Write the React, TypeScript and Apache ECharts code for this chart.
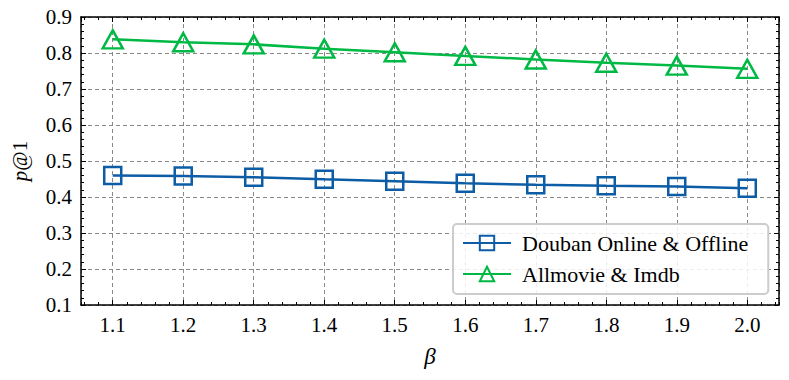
import React, { useEffect, useRef } from "react";
import * as echarts from "echarts";

const betas = [1.1, 1.2, 1.3, 1.4, 1.5, 1.6, 1.7, 1.8, 1.9, 2.0];
const doubanValues = [0.460, 0.458, 0.455, 0.449, 0.444, 0.438, 0.434, 0.431, 0.429, 0.424];
const allmovieValues = [0.838, 0.830, 0.824, 0.812, 0.802, 0.792, 0.782, 0.773, 0.765, 0.756];
const seriesNames = ["Douban Online & Offline", "Allmovie & Imdb"];

const FONT = "'Liberation Serif', 'DejaVu Serif', serif";
const BLUE = "#0C5DA5";
const GREEN = "#00B945";
const TICK_FS = 21;

export default function App() {
  const ref = useRef<HTMLDivElement>(null);
  useEffect(() => {
    document.body.style.margin = "0";
    if (!ref.current) return;
    const chart = echarts.init(ref.current, undefined, { renderer: "svg" });
    const xMin = 1.055;
    const xMax = 2.045;
    const baseX = (pos: string, major: boolean, labels: boolean) => ({
      type: "value",
      position: pos,
      min: xMin,
      max: xMax,
      splitNumber: major ? 10 : 50,
      minInterval: major ? 0.1 : 0.02,
      maxInterval: major ? 0.1 : 0.02,
      axisLine: { show: major, onZero: false, lineStyle: { color: "#000", width: 1.5 } },
      axisTick: { show: true, inside: true, length: major ? 5 : 3, lineStyle: { color: "#000", width: 1 } },
      axisLabel: labels
        ? {
            show: true,
            interval: 0,
            showMinLabel: false,
            showMaxLabel: false,
            margin: 9,
            color: "#000",
            fontFamily: FONT,
            fontSize: TICK_FS,
            formatter: (v: number) => v.toFixed(1),
          }
        : { show: false },
      splitLine: labels
        ? { show: true, lineStyle: { color: "#888", type: [4, 3], width: 1 } }
        : { show: false },
    });
    const xAxes: any[] = [
      { ...baseX("bottom", true, true), name: "β", nameLocation: "middle", nameGap: 40,
        nameTextStyle: { fontFamily: FONT, fontStyle: "italic", fontSize: 23, color: "#000" } },
      baseX("bottom", false, false),
      baseX("top", true, false),
      baseX("top", false, false),
    ];
    const baseY = (pos: string, labels: boolean) => ({
      type: "value",
      position: pos,
      min: 0.1,
      max: 0.9,
      interval: 0.1,
      axisLine: { show: true, onZero: false, lineStyle: { color: "#000", width: 1.5 } },
      axisTick: { show: true, inside: true, length: 5, lineStyle: { color: "#000", width: 1 } },
      minorTick: { show: true, splitNumber: 5, length: 3, lineStyle: { color: "#000", width: 1 } },
      axisLabel: labels
        ? { show: true, margin: 9, color: "#000", fontFamily: FONT, fontSize: TICK_FS,
            formatter: (v: number) => v.toFixed(1) }
        : { show: false },
      splitLine: labels
        ? { show: true, lineStyle: { color: "#888", type: [4, 3], width: 1 } }
        : { show: false },
    });
    const yAxes: any[] = [
      { ...baseY("left", true), name: "{i|p}@1", nameLocation: "middle", nameGap: 51, nameRotate: 90,
        nameTextStyle: { fontFamily: FONT, fontSize: 21, color: "#000",
          rich: { i: { fontFamily: FONT, fontStyle: "italic", fontSize: 21, color: "#000" } } } },
      baseY("right", false),
    ];

    chart.setOption({
      animation: false,
      backgroundColor: "#fff",
      grid: { left: 81, right: 10, top: 17, bottom: 75, containLabel: false },
      xAxis: xAxes,
      yAxis: yAxes,
      legend: {
        orient: "vertical",
        left: 453,
        top: 224,
        padding: [8, 20, 9, 9],
        itemGap: 9,
        itemWidth: 48,
        itemHeight: 18,
        backgroundColor: "rgba(255,255,255,0.85)",
        borderColor: "#cccccc",
        borderWidth: 2,
        borderRadius: 4,
        textStyle: { fontFamily: FONT, fontSize: 22, color: "#000", padding: [0, 0, 0, 6] },
        data: seriesNames,
      },
      series: [
        {
          name: seriesNames[0],
          type: "line",
          xAxisIndex: 0,
          yAxisIndex: 0,
          data: betas.map((b, i) => [b, doubanValues[i]]),
          symbol: "rect",
          symbolSize: 17,
          lineStyle: { color: BLUE, width: 2.5 },
          itemStyle: { color: "rgba(255,255,255,0)", borderColor: BLUE, borderWidth: 2.5 },
          color: BLUE,
          z: 3,
        },
        {
          name: seriesNames[1],
          type: "line",
          xAxisIndex: 0,
          yAxisIndex: 0,
          data: betas.map((b, i) => [b, allmovieValues[i]]),
          symbol: "triangle",
          symbolSize: [20, 18],
          lineStyle: { color: GREEN, width: 2.5 },
          itemStyle: { color: "rgba(255,255,255,0)", borderColor: GREEN, borderWidth: 2.5 },
          color: GREEN,
          z: 3,
        },
      ],
    });
    return () => chart.dispose();
  }, []);
  return <div ref={ref} style={{ width: 789, height: 380 }} />;
}
